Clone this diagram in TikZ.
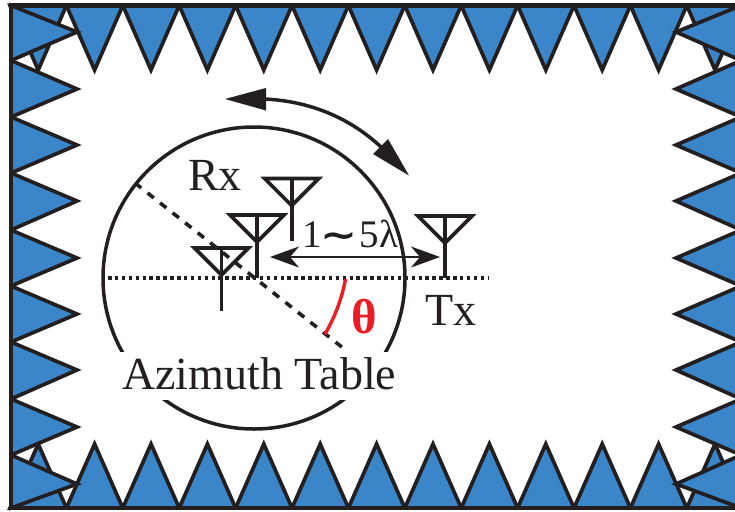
\documentclass[tikz,border=0pt]{standalone}
\usepackage{fontspec}
\setmainfont{Liberation Serif}
\newfontfamily\symfont{DejaVu Sans}
\usetikzlibrary{arrows.meta}
\definecolor{ink}{HTML}{231F20}
\definecolor{absorber}{HTML}{3A86C8}
\definecolor{anglered}{HTML}{ED1C24}
\tikzset{
  cone/.style={fill=absorber,draw=ink,line width=3.7pt,miter limit=10,line join=miter},
  wall/.style={draw=ink,line width=4.2pt,line cap=rect},
  antenna/.style={draw=ink,line width=3.6pt,line join=miter},
  lab/.style={text=ink,inner sep=0pt,anchor=base west,font=\fontsize{46}{50}\selectfont},
  table/.style={draw=ink,line width=3.5pt},
}
\newcommand{\antennaAt}[3]{% x, top y, bottom y
  \draw[antenna] (#1-27,#2) -- (#1+27,#2) -- (#1,#2+27) -- cycle;
  \draw[antenna] (#1,#2) -- (#1,#3);
}
\begin{document}
\begin{tikzpicture}[x=1pt,y=-1pt]
\useasboundingbox (0,0) rectangle (735,511);
\fill[white] (0,0) rectangle (735,511);
\clip (0,0) rectangle (735,511);
% top and bottom rows
\foreach \i in {0,...,12}{
  \pgfmathsetmacro{\xa}{10+56.4*\i}
  \pgfmathsetmacro{\xb}{\xa+56.4}
  \pgfmathsetmacro{\xm}{\xa+28.2}
  \draw[cone] (\xa,5.5) -- (\xm,70) -- (\xb,5.5) -- cycle;
  \draw[cone] (\xa,508) -- (\xm,444) -- (\xb,508) -- cycle;
}
% left and right rows
\foreach \ya/\ym/\yb in {5.5/32/60.5,60.5/89/117,117/145/173,173/201/230,230/258/286,286/314/342,342/370/399,399/427/455,455/484/508}{
  \draw[cone] (11,\ya) -- (77,\ym) -- (11,\yb) -- cycle;
  \draw[cone] (741,\ya) -- (676,\ym) -- (741,\yb) -- cycle;
}
% walls
\draw[wall] (740,5.5) -- (11,5.5) -- (11,508) -- (740,508);
% azimuth table
\draw[table] (254,278) circle (151pt);
\fill[white] (112,352) rectangle (398,400);
\node[lab] (aztable) at (122,389) {Azimuth Table};
% reference lines
\coordinate (dotA) at (108,278);
\coordinate (dotB) at (488,278);
\draw[draw=ink,line width=3.6pt,dash pattern=on 3.5pt off 3.4pt] (dotA) -- (dotB);
\coordinate (dashA) at (135,183);
\coordinate (dashB) at (343,348);
\draw[draw=ink,line width=3.6pt,dash pattern=on 8pt off 8pt] (dashA) -- (dashB);
% antennas
\antennaAt{291.7}{178.5}{241}
\antennaAt{257}{215}{278}
\antennaAt{221.5}{248}{311}
\antennaAt{445}{216}{278}
% rotation arrow
\coordinate (rotA) at (264,99);
\coordinate (rotB) at (381,147);
\draw[draw=ink,line width=3.5pt] (rotA) .. controls (310,101) and (350,118) .. (rotB);
\fill[ink] (225,99) -- (266,88) -- (266,110.5) -- cycle;
\fill[ink] (409,175.5) -- (388,139) -- (373,154) -- cycle;
% spacing arrow
\coordinate (spA) at (270,257);
\coordinate (spB) at (440,257);
\draw[draw=ink,line width=2.4pt,{Stealth[length=29pt,width=21pt,inset=9pt]}-{Stealth[length=29pt,width=21pt,inset=9pt]}] (spA) -- (spB);
% angle
\draw[draw=anglered,line width=3.4pt] (345.5,279) .. controls (342,298) and (335,317) .. (325,334);
\node[lab,text=anglered,font=\fontsize{49}{50}\selectfont] (theta) at (351,333) {\bfseries θ};
% labels
\node[lab] (rx) at (188,190) {Rx};
\node[lab] (tx) at (425,325) {Tx};
\node[lab,font=\fontsize{39}{44}\selectfont] (spacing) at (302,247) {1\hspace{-1pt}\resizebox{37pt}{15pt}{\symfont\bfseries ∼}\hspace{2pt}5λ};
\end{tikzpicture}
\end{document}
